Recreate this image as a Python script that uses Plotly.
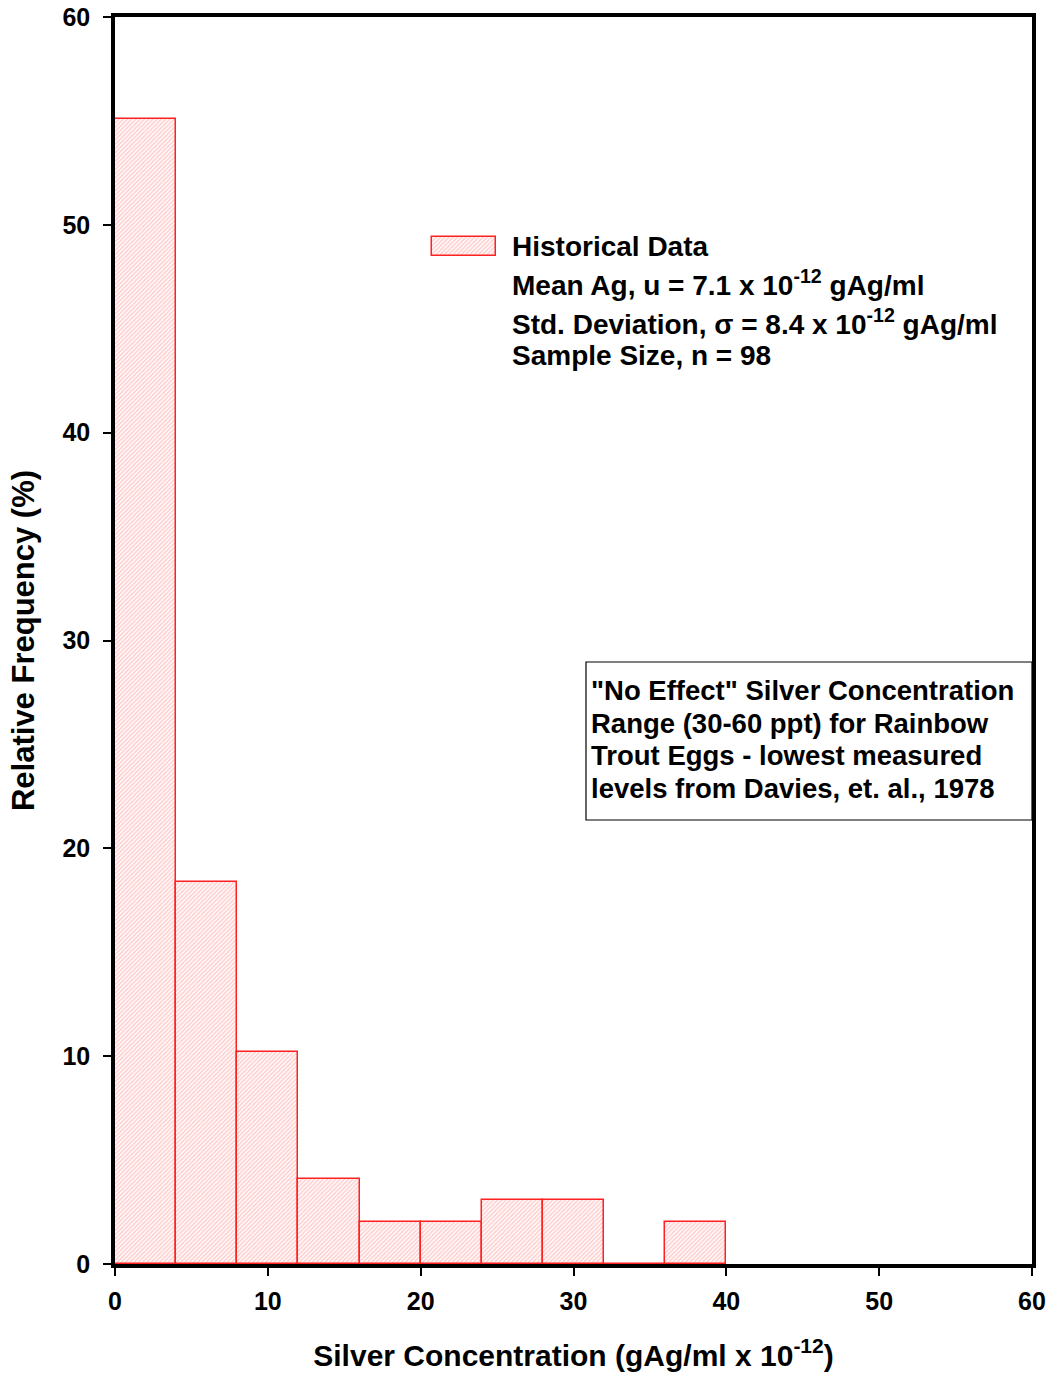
import plotly.graph_objects as go

# Data
bin_centers = [2, 6, 10, 14, 18, 22, 26, 30, 34, 38]
rel_freq = [55.1, 18.4, 10.2, 4.1, 2.0, 2.0, 3.1, 3.1, 0.0, 2.0]
bin_width = 4
x_ticks = [0, 10, 20, 30, 40, 50, 60]
y_ticks = [0, 10, 20, 30, 40, 50, 60]
series_name = "Historical Data"

FONT = "Liberation Sans, Arial, sans-serif"

L, R, T, B = 115, 20, 17, 117
W, H = 1052, 1381
PW, PH = W - L - R, H - T - B


def px(xp):
    return (xp - L) / PW


def py(yp):
    return (T + PH - yp) / PH


bar_marker = dict(
    color="white",
    line=dict(color="#ff2020", width=1.5),
    pattern=dict(shape="/", fgcolor="#ffa0a0", bgcolor="white", size=3, solidity=0.55),
)

fig = go.Figure()
fig.add_trace(go.Bar(
    x=bin_centers, y=rel_freq, width=bin_width,
    name=series_name, marker=bar_marker, showlegend=False,
))
# legend swatch (drawn on a hidden helper axis so it keeps the hatch)
fig.add_trace(go.Bar(
    x=[0.5], y=[1], width=1, xaxis="x2", yaxis="y2",
    marker=bar_marker, showlegend=False, hoverinfo="skip",
))

axis_common = dict(
    showline=True, linecolor="black", linewidth=3.5, mirror=True,
    ticks="outside", ticklen=8, tickwidth=2, tickcolor="black",
    showgrid=False, zeroline=False, automargin=False,
    tickfont=dict(family=FONT, size=25, color="black", weight="bold"),
)

fig.update_layout(
    width=W, height=H,
    margin=dict(l=L, r=R, t=T, b=B),
    paper_bgcolor="white", plot_bgcolor="white",
    bargap=0, showlegend=False,
    xaxis=dict(range=[0, 60], tickvals=x_ticks, ticklabelstandoff=4,
               title=dict(text="Silver Concentration (gAg/ml x 10<sup>-12</sup>)",
                          font=dict(family=FONT, size=30, color="black", weight="bold"),
                          standoff=32),
               **axis_common),
    yaxis=dict(range=[0, 60], tickvals=y_ticks, ticklabelstandoff=8,
               title=dict(text="Relative Frequency (%)",
                          font=dict(family=FONT, size=31, color="black", weight="bold"),
                          standoff=20),
               **axis_common),
    xaxis2=dict(domain=[px(430), px(498)], range=[-2 / 64, 1 + 2 / 64], anchor="y2",
                visible=False, fixedrange=True),
    yaxis2=dict(domain=[py(258), py(235)], range=[-2 / 19, 1 + 2 / 19], anchor="x2",
                visible=False, fixedrange=True),
)

ann_font = dict(family=FONT, size=28, color="black", weight="bold")
lines = [
    (series_name, 246),
    ("Mean Ag, u = 7.1 x 10<sup>-12</sup> gAg/ml", 283),
    ("Std. Deviation, σ = 8.4 x 10<sup>-12</sup> gAg/ml", 322),
    ("Sample Size, n = 98", 356),
]
for txt, yp in lines:
    fig.add_annotation(xref="paper", yref="paper", x=px(510), y=py(yp),
                       xanchor="left", yanchor="middle", text=txt, showarrow=False,
                       align="left", font=ann_font)

# "No Effect" box
fig.add_shape(type="rect", xref="paper", yref="paper",
              x0=px(586), x1=px(1032), y0=py(820), y1=py(662),
              line=dict(color="black", width=1.2), fillcolor="white", layer="above")
box_lines = [
    '"No Effect" Silver Concentration',
    "Range (30-60 ppt) for Rainbow",
    "Trout Eggs - lowest measured",
    "levels from Davies, et. al., 1978",
]
box_y = [690, 723, 756, 789]
for txt, yp in zip(box_lines, box_y):
    fig.add_annotation(xref="paper", yref="paper", x=px(589), y=py(yp),
                       xanchor="left", yanchor="middle", text=txt, showarrow=False,
                       align="left", font=dict(family=FONT, size=27.5, color="black", weight="bold"))

fig.write_html("out.html")
